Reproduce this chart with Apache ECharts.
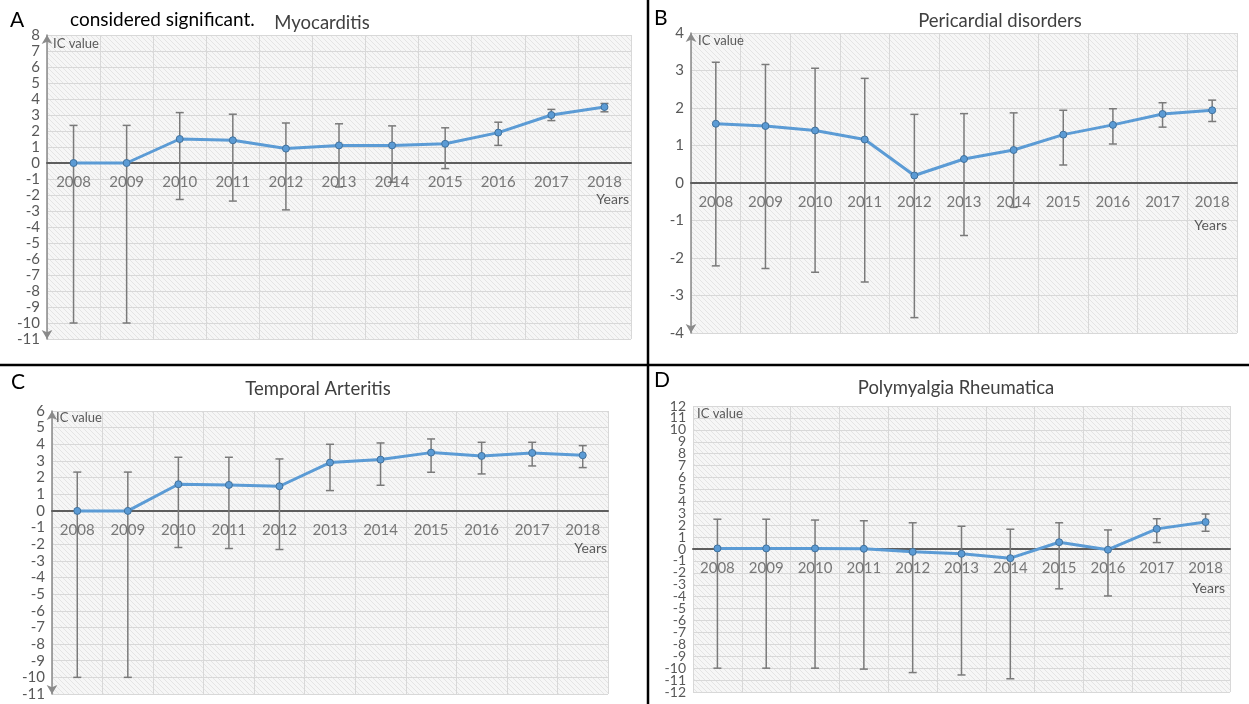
<!DOCTYPE html>
<html><head><meta charset="utf-8">
<script src="https://cdn.jsdelivr.net/npm/echarts@6/dist/echarts.min.js"></script>
<style>html,body{margin:0;padding:0;background:#fff}#c{width:1249px;height:704px}</style>
</head><body><div id="c"></div>
<script>
const years = ['2008','2009','2010','2011','2012','2013','2014','2015','2016','2017','2018'];

// A: Myocarditis
const myoIC    = [0, 0, 1.5, 1.42, 0.9, 1.1, 1.1, 1.2, 1.9, 3.0, 3.5];
const myoUpper = [2.35, 2.35, 3.15, 3.05, 2.5, 2.45, 2.32, 2.2, 2.55, 3.35, 3.72];
const myoLower = [-10, -10, -2.28, -2.38, -2.93, -1.5, -1.2, -0.35, 1.1, 2.65, 3.2];

// B: Pericardial disorders
const periIC    = [1.58, 1.52, 1.4, 1.16, 0.2, 0.64, 0.88, 1.29, 1.55, 1.84, 1.94];
const periUpper = [3.22, 3.16, 3.06, 2.79, 1.83, 1.85, 1.87, 1.94, 1.98, 2.14, 2.21];
const periLower = [-2.21, -2.28, -2.38, -2.64, -3.59, -1.4, -0.65, 0.48, 1.04, 1.49, 1.64];

// C: Temporal Arteritis
const tempIC    = [0, 0, 1.6, 1.56, 1.48, 2.9, 3.08, 3.5, 3.3, 3.48, 3.34];
const tempUpper = [2.33, 2.33, 3.22, 3.22, 3.12, 4.0, 4.08, 4.32, 4.12, 4.12, 3.92];
const tempLower = [-10, -10, -2.2, -2.26, -2.32, 1.22, 1.54, 2.32, 2.22, 2.7, 2.6];

// D: Polymyalgia Rheumatica
const polyIC    = [0.05, 0.05, 0.05, 0.02, -0.24, -0.4, -0.77, 0.57, -0.06, 1.69, 2.26];
const polyUpper = [2.5, 2.5, 2.43, 2.37, 2.2, 1.91, 1.66, 2.2, 1.6, 2.54, 2.94];
const polyLower = [-10, -10, -10, -10.08, -10.37, -10.57, -10.89, -3.34, -3.94, 0.54, 1.49];
// D y tick labels (dense; drawn explicitly so none is dropped)
const polyTicks = [12,11,10,9,8,7,6,5,4,3,2,1,0,-1,-2,-3,-4,-5,-6,-7,-8,-9,-10,-11,-12];

const panels = [
  {ic: myoIC, up: myoUpper, lo: myoLower, min: -11, max: 8, grid:{left:47, top:35, width:584, height:304}, fs:15, arrow:true},
  {ic: periIC, up: periUpper, lo: periLower, min: -4, max: 4, grid:{left:691, top:33, width:546, height:300}, fs:15, arrow:true},
  {ic: tempIC, up: tempUpper, lo: tempLower, min: -11, max: 6, grid:{left:52, top:411, width:556, height:283}, fs:15, arrow:true},
  {ic: polyIC, up: polyUpper, lo: polyLower, min: -12, max: 12, grid:{left:693, top:406, width:537, height:286}, fs:14, arrow:false, ticks:polyTicks}
];

const FONT = 'Lato';
const pc = document.createElement('canvas');
pc.width = 5; pc.height = 5;
const g = pc.getContext('2d');
g.fillStyle = '#f6f6f6'; g.fillRect(0,0,5,5);
g.strokeStyle = '#e4e4e4'; g.lineWidth = 1;
g.beginPath(); g.moveTo(-1,-1); g.lineTo(6,6); g.stroke();

const grids = [], xAxes = [], yAxes = [], series = [];
panels.forEach((p, k) => {
  grids.push(Object.assign({show:true, borderWidth:0, backgroundColor:{image:pc, repeat:'repeat'}}, p.grid));
  xAxes.push({
    type:'category', gridIndex:k, data:years, boundaryGap:true,
    axisLine:{show:true, onZero:true, lineStyle:{color:'#5e5e5e', width:2}},
    axisTick:{show:false},
    axisLabel:{show:false},
    splitLine:{show:true, interval:0, lineStyle:{color:'#d8d8d8', width:1}}
  });
  yAxes.push({
    type:'value', gridIndex:k, min:p.min, max:p.max, interval:1,
    axisLine:{show:p.arrow, onZero:false, symbol:['arrow','arrow'], symbolSize:[8,9], symbolOffset:[0,0],
      lineStyle:{color:'#8a8a8a', width:1.5}},
    axisTick:{show:false},
    axisLabel:{show:!p.ticks, color:'#595959', fontSize:p.fs, fontFamily:FONT, margin:7, interval:0,
      showMinLabel:true, showMaxLabel:true},
    splitLine:{show:true, lineStyle:{color:'#d8d8d8', width:1}}
  });
  if (p.ticks) {
    series.push({
      type:'custom', xAxisIndex:k, yAxisIndex:k, z:4, silent:true, clip:false,
      data: p.ticks.map(v=>[0, v]),
      renderItem: function(params, api){
        const pt = api.coord([0, api.value(1)]);
        const x0 = params.coordSys.x - 7;
        return {type:'text', x:x0, y:pt[1], style:{text:String(api.value(1)), fontSize:p.fs,
          fontFamily:FONT, fill:'#595959', textAlign:'right', textVerticalAlign:'middle'}};
      }
    });
  }
  series.push({
    type:'custom', xAxisIndex:k, yAxisIndex:k, z:2,
    data: years.map((y,i)=>[i, p.lo[i], p.up[i]]),
    renderItem: function(params, api){
      const i = api.value(0);
      const t = api.coord([i, api.value(2)]);
      const b = api.coord([i, api.value(1)]);
      const w = 4;
      const st = {stroke:'#7a7a7a', lineWidth:1.5};
      return {type:'group', children:[
        {type:'line', shape:{x1:t[0], y1:t[1], x2:b[0], y2:b[1]}, style:st},
        {type:'line', shape:{x1:t[0]-w, y1:t[1], x2:t[0]+w, y2:t[1]}, style:st},
        {type:'line', shape:{x1:b[0]-w, y1:b[1], x2:b[0]+w, y2:b[1]}, style:st}
      ]};
    }
  });
  // category labels placed under the zero line (Excel-style axis crossing at 0)
  series.push({
    type:'scatter', xAxisIndex:k, yAxisIndex:k, z:4, silent:true,
    data: years.map((y,i)=>[i, 0]),
    symbol:'circle', symbolSize:1, itemStyle:{color:'rgba(0,0,0,0)'},
    label:{show:true, position:'bottom', distance:11, color:'#595959', fontSize:15, fontFamily:FONT,
      formatter: (d)=>years[d.dataIndex]}
  });
  series.push({
    type:'line', xAxisIndex:k, yAxisIndex:k, z:3, data:p.ic,
    symbol:'circle', symbolSize:7,
    lineStyle:{color:'#5b9bd5', width:3},
    itemStyle:{color:'#5b9bd5', borderColor:'#41719c', borderWidth:1}
  });
});

function txt(x, y, s, size, color, align){
  return {type:'text', x:x, y:y, z:10, style:{text:s, fontSize:size, fontFamily:FONT, fill:color,
    textAlign:align||'left', textVerticalAlign:'middle'}};
}

const graphic = [
  {type:'line', z:10, shape:{x1:648, y1:0, x2:648, y2:704}, style:{stroke:'#000', lineWidth:2.5}},
  {type:'line', z:10, shape:{x1:0, y1:365, x2:1249, y2:365}, style:{stroke:'#000', lineWidth:2.5}},
  txt(10, 20, 'A', 21, '#000'),
  txt(70, 20, 'considered significant.', 19, '#000'),
  txt(322, 23, 'Myocarditis', 18.5, '#404040', 'center'),
  txt(654, 18, 'B', 21, '#000'),
  txt(1000, 21, 'Pericardial disorders', 18.5, '#404040', 'center'),
  txt(11, 382, 'C', 21, '#000'),
  txt(318, 389, 'Temporal Arteritis', 18.5, '#404040', 'center'),
  txt(654, 380, 'D', 21, '#000'),
  txt(956, 388, 'Polymyalgia Rheumatica', 18.5, '#404040', 'center'),
  txt(53, 44, 'IC value', 13, '#595959'),
  txt(698, 41, 'IC value', 13, '#595959'),
  txt(56, 418, 'IC value', 13, '#595959'),
  txt(697, 414, 'IC value', 13, '#595959'),
  txt(629, 199, 'Years', 14, '#595959', 'right'),
  txt(1227, 225, 'Years', 14, '#595959', 'right'),
  txt(607, 548, 'Years', 14, '#595959', 'right'),
  txt(1225, 588, 'Years', 14, '#595959', 'right')
];

const chart = echarts.init(document.getElementById('c'), null, {renderer:'canvas'});
chart.setOption({
  animation:false,
  backgroundColor:'#fff',
  grid:grids, xAxis:xAxes, yAxis:yAxes, series:series, graphic:graphic
});
</script>
</body></html>
